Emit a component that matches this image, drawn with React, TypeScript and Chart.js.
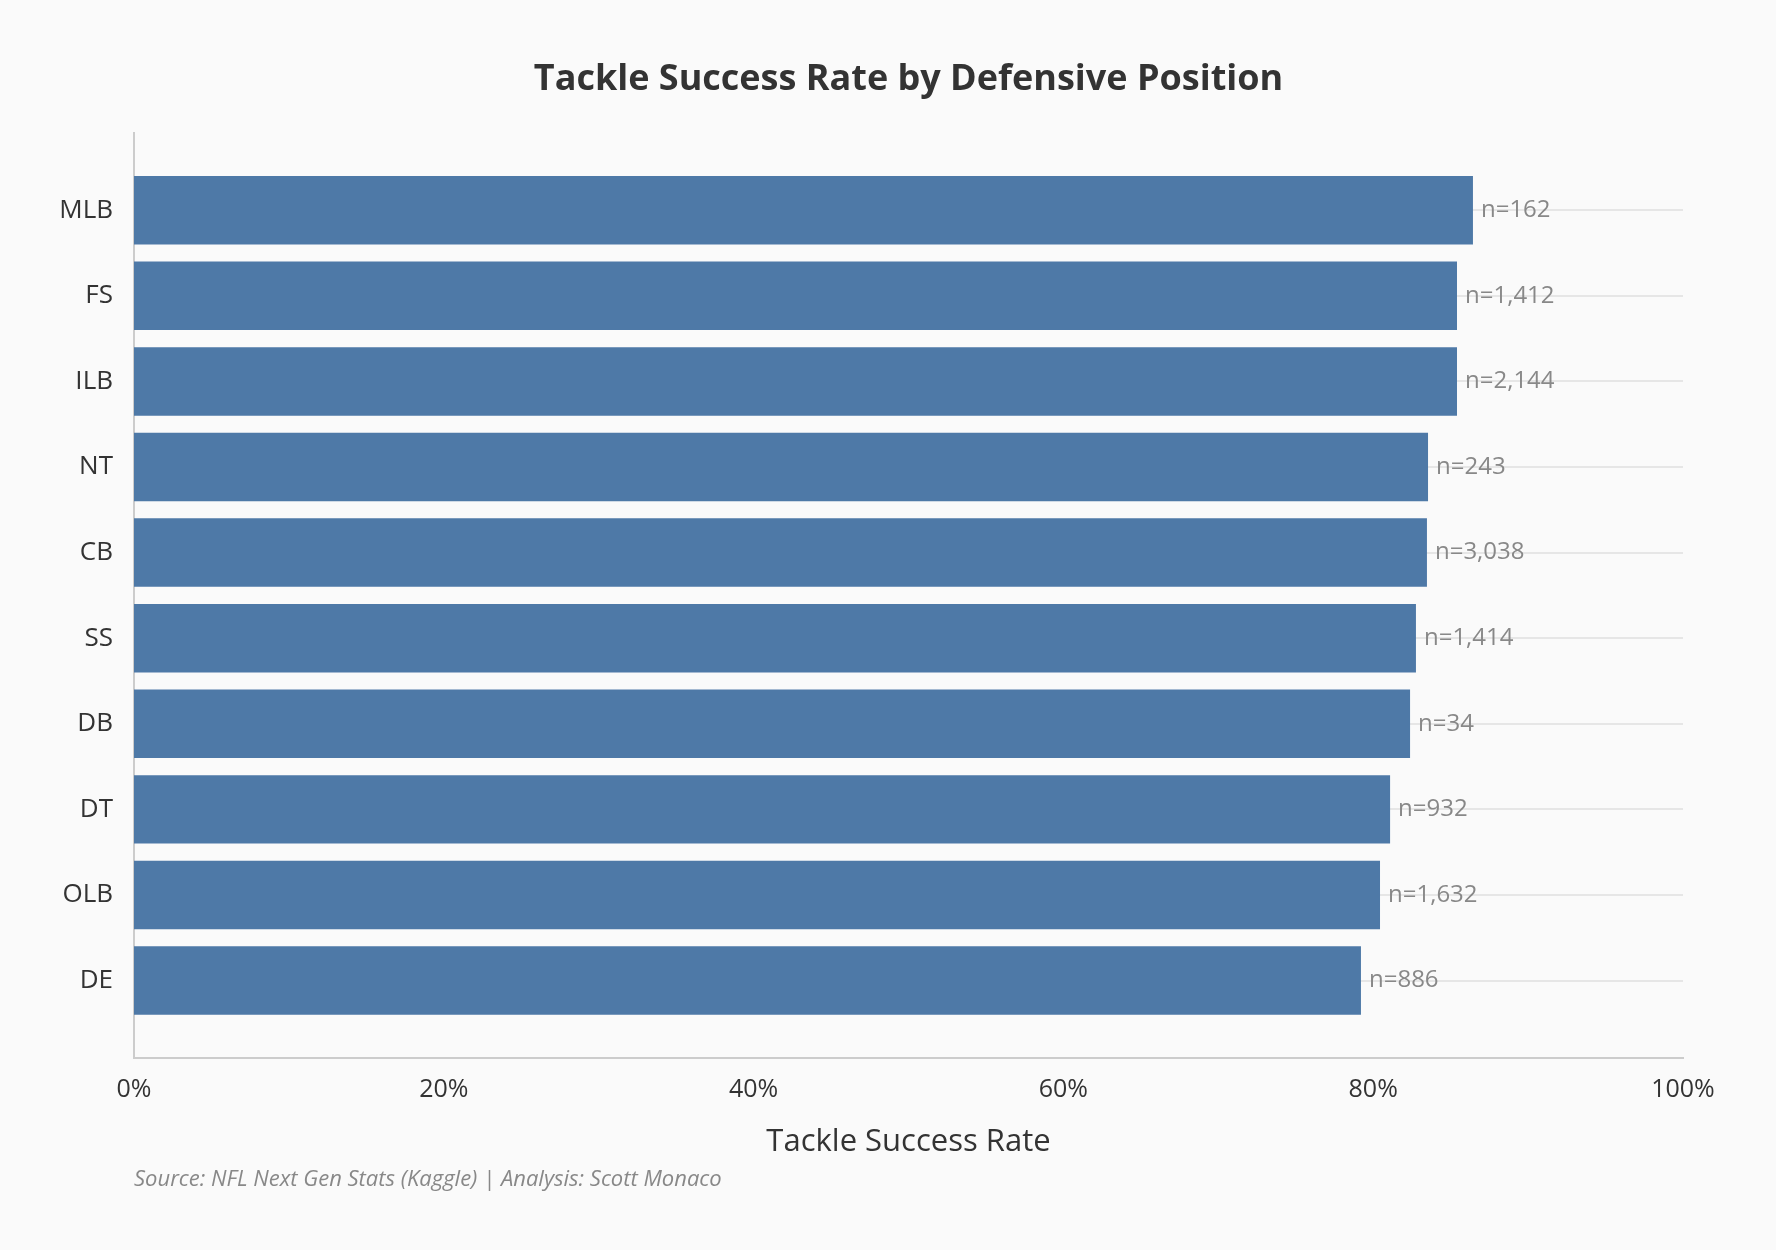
import React, { useEffect, useRef } from 'react';
import Chart from 'chart.js/auto';

// Tackle success rate (%) by defensive position, top to bottom
const positions = ['MLB', 'FS', 'ILB', 'NT', 'CB', 'SS', 'DB', 'DT', 'OLB', 'DE'];
const successRates = [86.44, 85.41, 85.41, 83.54, 83.47, 82.76, 82.38, 81.09, 80.44, 79.21];
const sampleSizes = [162, 1412, 2144, 243, 3038, 1414, 34, 932, 1632, 886];
const xTicks = [0, 20, 40, 60, 80, 100];

const FONT = "'Open Sans', 'Noto Sans', sans-serif";

// writes "n=..." just past the end of each bar
const sampleLabelPlugin = {
  id: 'sampleLabels',
  afterDatasetsDraw(chart: any) {
    const { ctx } = chart;
    const meta = chart.getDatasetMeta(0);
    ctx.save();
    ctx.font = `24px ${FONT}`;
    ctx.fillStyle = '#888888';
    ctx.textAlign = 'left';
    ctx.textBaseline = 'middle';
    meta.data.forEach((bar: any, i: number) => {
      ctx.fillText('n=' + sampleSizes[i].toLocaleString('en-US'), bar.x + 8, bar.y);
    });
    ctx.restore();
  },
};

const TackleChart: React.FC = () => {
  const canvasRef = useRef<HTMLCanvasElement>(null);
  const chartRef = useRef<Chart | null>(null);

  useEffect(() => {
    if (!canvasRef.current) return;
    if (chartRef.current) chartRef.current.destroy();

    chartRef.current = new Chart(canvasRef.current, {
      type: 'bar',
      data: {
        datasets: [
          {
            label: 'Tackle Success Rate',
            data: successRates.map((v, i) => ({ x: v, y: i })),
            backgroundColor: '#4e79a7',
            borderWidth: 0,
            categoryPercentage: 0.8,
            barPercentage: 1,
          },
        ],
      },
      options: {
        indexAxis: 'y',
        responsive: false,
        animation: false,
        layout: { padding: { top: 0, left: 0, right: 93, bottom: 57 } },
        plugins: {
          legend: { display: false },
          tooltip: { enabled: false },
          title: {
            display: true,
            text: 'Tackle Success Rate by Defensive Position',
            fullSize: false,
            color: '#333333',
            font: { family: FONT, size: 36, weight: 'bold' },
            padding: { top: 58, bottom: 32 },
          },
          subtitle: {
            display: true,
            position: 'bottom',
            align: 'start',
            fullSize: false,
            text: 'Source: NFL Next Gen Stats (Kaggle) | Analysis: Scott Monaco',
            color: '#888888',
            font: { family: FONT, size: 22, style: 'italic' },
            padding: { top: 5, bottom: 0 },
          },
        },
        scales: {
          x: {
            type: 'linear',
            min: 0,
            max: 100,
            afterFit: (s: any) => {
              s.height = 104;
            },
            afterBuildTicks: (s: any) => {
              s.ticks = xTicks.map((v) => ({ value: v }));
            },
            ticks: {
              padding: 17,
              color: '#333333',
              font: { family: FONT, size: 25 },
              callback: (v: any) => v + '%',
            },
            grid: { display: false, drawTicks: false },
            border: { display: true, color: '#cccccc', width: 2 },
            title: {
              display: true,
              text: 'Tackle Success Rate',
              color: '#333333',
              font: { family: FONT, size: 31 },
              padding: { top: 0, bottom: 1 },
            },
          },
          y: {
            type: 'linear',
            reverse: true,
            offset: false,
            min: -0.9,
            max: positions.length - 0.1,
            afterFit: (s: any) => {
              s.width = 134;
            },
            afterBuildTicks: (s: any) => {
              s.ticks = positions.map((_, i) => ({ value: i }));
            },
            ticks: {
              padding: 21,
              color: '#333333',
              font: { family: FONT, size: 26 },
              callback: (v: any) => positions[v] ?? '',
            },
            grid: { display: true, offset: false, color: '#e6e6e6', lineWidth: 2, drawTicks: false },
            border: { display: true, color: '#cccccc', width: 2 },
          },
        },
      },
      plugins: [sampleLabelPlugin],
    });

    return () => {
      if (chartRef.current) {
        chartRef.current.destroy();
        chartRef.current = null;
      }
    };
  }, []);

  return (
    <div style={{ width: 1776, height: 1250, background: '#fafafa' }}>
      <style>{'body { margin: 0; background: #fafafa; }'}</style>
      <canvas ref={canvasRef} width={1776} height={1250}></canvas>
    </div>
  );
};

export default function App() {
  return <TackleChart />;
}
